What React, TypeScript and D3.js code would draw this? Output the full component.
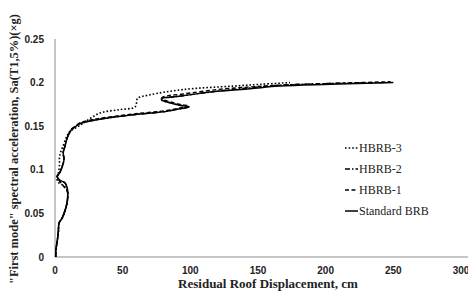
import React from "react";
import * as d3 from "d3";

const xTicks = [0, 50, 100, 150, 200, 250, 300];
const yTicks = [0, 0.05, 0.1, 0.15, 0.2, 0.25];
const yTickLabels = ["0", "0.05", "0.1", "0.15", "0.2", "0.25"];

const stdX = [0.5, 0.7, 1.7, 2.4, 3.0, 5.0, 6.6, 8.1, 9.1, 9.4, 9.1, 7.4, 3.7, 1.7, 3.7, 5.2, 6.6, 6.1, 7.4, 8.5, 10.0, 12.2, 14.8, 18.5, 25.9, 33.0, 57.6, 82.5, 92.4, 99.0, 92.4, 85.0, 79.0, 79.0, 83.5, 94.6, 119.5, 144.0, 166.0, 203.0, 250.0];
const stdY = [0.0, 0.009, 0.019, 0.029, 0.039, 0.044, 0.05, 0.057, 0.065, 0.073, 0.079, 0.085, 0.088, 0.092, 0.097, 0.103, 0.111, 0.12, 0.127, 0.134, 0.14, 0.146, 0.149, 0.153, 0.156, 0.158, 0.163, 0.167, 0.17, 0.172, 0.174, 0.177, 0.18, 0.182, 0.183, 0.185, 0.19, 0.193, 0.196, 0.198, 0.2];

const h1X = [0.5, 0.8, 1.8, 2.5, 3.1, 5.1, 6.7, 8.2, 9.2, 9.5, 6.0, 2.0, 1.6, 3.8, 5.3, 6.7, 6.2, 7.5, 8.6, 10.1, 12.3, 14.9, 18.6, 26.0, 33.2, 57.8, 82.7, 92.6, 99.3, 92.6, 85.2, 79.3, 79.3, 83.8, 94.8, 119.7, 144.2, 166.2, 203.2, 248.0];
const h1Y = [0.0, 0.009, 0.019, 0.029, 0.039, 0.044, 0.05, 0.057, 0.065, 0.073, 0.082, 0.09, 0.093, 0.098, 0.104, 0.112, 0.121, 0.128, 0.135, 0.141, 0.147, 0.15, 0.154, 0.157, 0.159, 0.164, 0.168, 0.171, 0.173, 0.175, 0.178, 0.181, 0.183, 0.185, 0.187, 0.192, 0.195, 0.197, 0.199, 0.201];

const h2X = [0.5, 0.7, 1.7, 2.4, 3.0, 5.0, 6.6, 8.1, 9.1, 9.4, 9.0, 7.3, 3.6, 1.6, 3.6, 5.1, 6.5, 6.0, 7.3, 8.4, 9.9, 12.0, 14.6, 18.3, 25.7, 32.8, 57.4, 82.3, 92.2, 98.5, 92.0, 84.8, 78.8, 78.9, 83.4, 94.4, 119.3, 143.8, 165.8, 202.8, 246.0];
const h2Y = [0.0, 0.009, 0.019, 0.029, 0.039, 0.044, 0.05, 0.057, 0.065, 0.073, 0.079, 0.085, 0.088, 0.092, 0.097, 0.103, 0.111, 0.12, 0.127, 0.134, 0.14, 0.146, 0.149, 0.153, 0.156, 0.158, 0.163, 0.167, 0.17, 0.172, 0.174, 0.177, 0.18, 0.182, 0.183, 0.185, 0.19, 0.194, 0.197, 0.199, 0.2];

const h3X = [0.5, 0.9, 1.8, 2.6, 3.1, 5.2, 7.0, 8.3, 9.2, 9.5, 8.1, 5.2, 2.2, 1.5, 2.6, 3.3, 3.3, 4.1, 5.7, 8.6, 11.1, 18.5, 33.2, 48.0, 59.1, 60.4, 61.0, 70.2, 94.6, 131.5, 151.5, 173.6];
const h3Y = [0.0, 0.009, 0.019, 0.029, 0.039, 0.044, 0.05, 0.057, 0.065, 0.073, 0.079, 0.083, 0.086, 0.091, 0.097, 0.106, 0.114, 0.12, 0.126, 0.138, 0.144, 0.151, 0.165, 0.169, 0.172, 0.178, 0.182, 0.186, 0.192, 0.196, 0.198, 0.2];

const seriesNames = ["HBRB-3", "HBRB-2", "HBRB-1", "Standard BRB"];

const W = 468;
const H = 298;
const left = 55;
const right = 461;
const top = 39;
const bottom = 257;

export default function App() {
  const x = d3.scaleLinear().domain([0, 300]).range([left, right]);
  const y = d3.scaleLinear().domain([0, 0.25]).range([bottom, top]);
  const line = d3
    .line<[number, number]>()
    .x((d) => x(d[0]))
    .y((d) => y(d[1]))
    .curve(d3.curveCatmullRom.alpha(0.5));
  const zip = (a: number[], b: number[]) => a.map((v, i) => [v, b[i]] as [number, number]);

  const series = [
    { name: seriesNames[0], d: zip(h3X, h3Y), dash: "1.6,2", w: 1.6 },
    { name: seriesNames[1], d: zip(h2X, h2Y), dash: "5,2,1.5,2", w: 1.4 },
    { name: seriesNames[2], d: zip(h1X, h1Y), dash: "4,2.5", w: 1.4 },
    { name: seriesNames[3], d: zip(stdX, stdY), dash: "none", w: 1.5 },
  ];

  const legendY = [148, 169, 190, 211];

  return (
    <svg
      width={W}
      height={H}
      style={{ position: "absolute", left: 0, top: 0, background: "#fff" }}
    >
      <rect x={0} y={0} width={W} height={H} fill="#fff" />
      <line x1={left} x2={left} y1={top} y2={bottom} stroke="#8c8c8c" strokeWidth={1} />
      <line x1={left} x2={W} y1={bottom} y2={bottom} stroke="#8c8c8c" strokeWidth={1} />
      {xTicks.map((t) => (
        <text
          key={"x" + t}
          x={x(t)}
          y={274}
          textAnchor="middle"
          fontFamily="Liberation Sans, Arial, sans-serif"
          fontWeight="bold"
          fontSize={10}
          fill="#222"
        >
          {t}
        </text>
      ))}
      {yTicks.map((t, i) => (
        <text
          key={"y" + t}
          x={44}
          y={y(t) + 3.5}
          textAnchor="end"
          fontFamily="Liberation Sans, Arial, sans-serif"
          fontWeight="bold"
          fontSize={10}
          fill="#222"
        >
          {yTickLabels[i]}
        </text>
      ))}
      <text
        x={268}
        y={288}
        textAnchor="middle"
        fontFamily="Liberation Serif, Times New Roman, serif"
        fontWeight="bold"
        fontSize={13}
        fill="#222"
      >
        Residual Roof Displacement, cm
      </text>
      <text
        transform={`translate(18,${149}) rotate(-90)`}
        textAnchor="middle"
        fontFamily="Liberation Serif, Times New Roman, serif"
        fontWeight="bold"
        fontSize={13}
        textLength={270}
        lengthAdjust="spacingAndGlyphs"
        fill="#222"
      >
        "First mode" spectral acceleration, Sa(T1,5%)(×g)
      </text>
      {series.map((s) => (
        <path
          key={s.name}
          d={line(s.d) || ""}
          fill="none"
          stroke="#000"
          strokeWidth={s.w}
          strokeDasharray={s.dash}
        />
      ))}
      {series.map((s, i) => (
        <g key={"lg" + s.name}>
          <line
            x1={345}
            x2={358}
            y1={legendY[i]}
            y2={legendY[i]}
            stroke="#000"
            strokeWidth={s.w}
            strokeDasharray={s.dash}
          />
          <text
            x={359}
            y={legendY[i] + 4}
            fontFamily="Liberation Serif, Times New Roman, serif"
            fontSize={12}
            fill="#222"
          >
            {s.name}
          </text>
        </g>
      ))}
    </svg>
  );
}
